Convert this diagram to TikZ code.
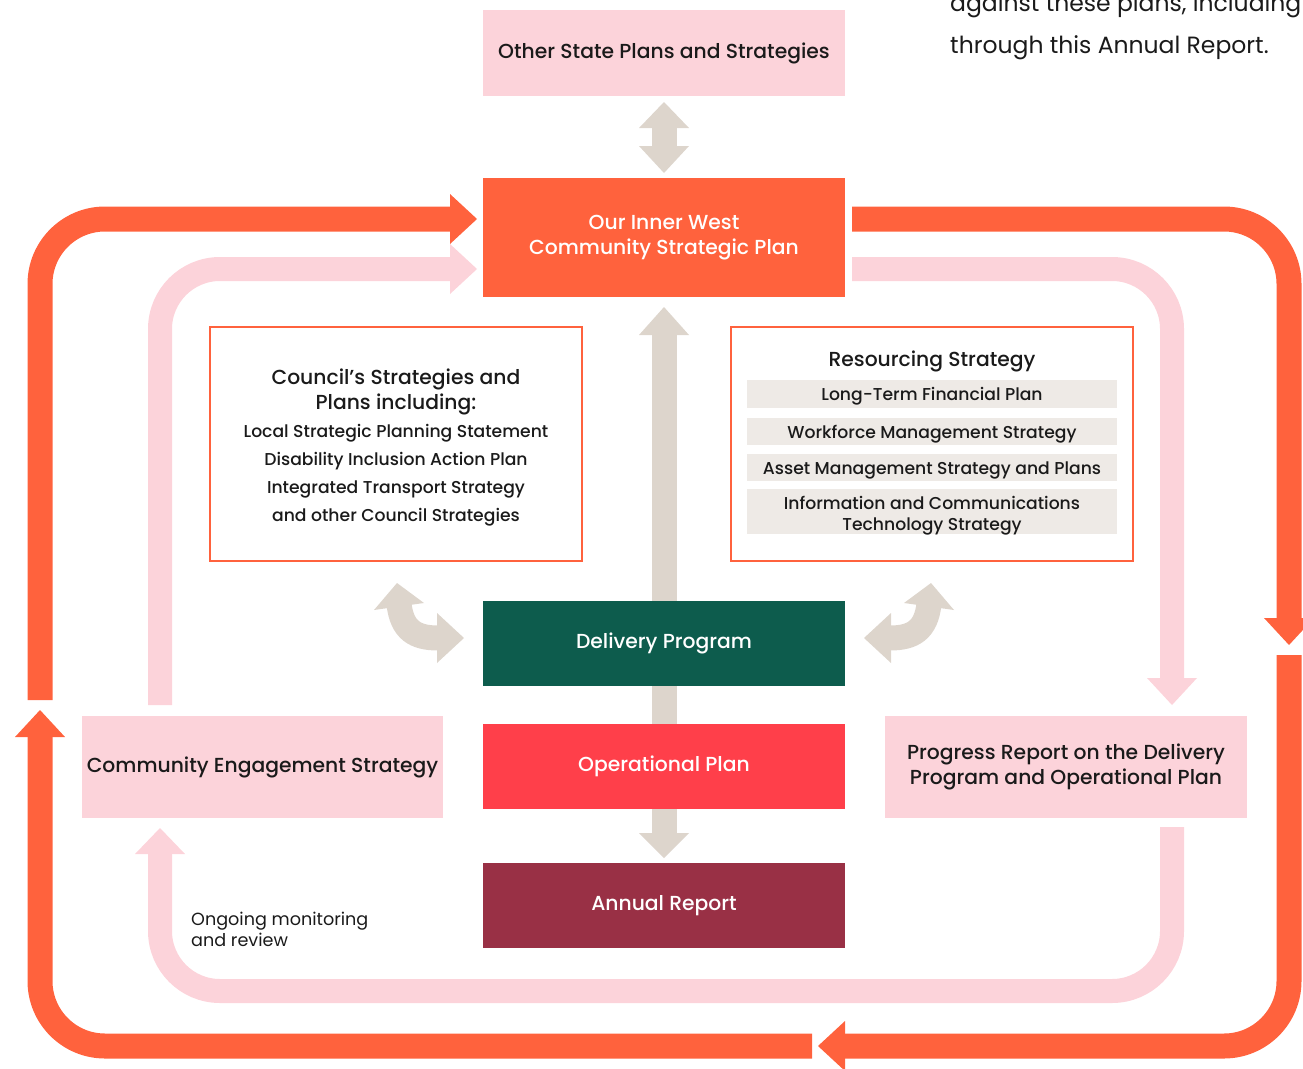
\documentclass[tikz,border=0pt]{standalone}
\usepackage{fontspec}
\setmainfont{Poppins}
\IfFontExistsTF{Poppins Medium}{\newfontfamily\medfont{Poppins Medium}}{\newfontfamily\medfont{Poppins}[FakeBold=0.5]}
\definecolor{orangec}{HTML}{FF623D}
\definecolor{pinkc}{HTML}{FCD3DA}
\definecolor{greyc}{HTML}{DDD5CC}
\definecolor{barc}{HTML}{EEEAE6}
\definecolor{greenc}{HTML}{0D5C4D}
\definecolor{redc}{HTML}{FF3F4A}
\definecolor{maroonc}{HTML}{993045}
\definecolor{txt}{HTML}{1A1A1A}
\begin{document}
\begin{tikzpicture}[x=1pt,y=-1pt,
  boxbase/.style={inner sep=0pt, align=center, font=\medfont\fontsize{20.3}{25}\selectfont},
  pinkbox/.style={boxbase, fill=pinkc, text=txt},
  solidbox/.style={boxbase, text=white, minimum width=362pt, minimum height=85pt},
  frame/.style={draw=orangec, line width=2pt, fill=white, inner sep=0pt},
  bar/.style={fill=barc, inner sep=0pt, minimum width=370pt},
  small/.style={font=\medfont\fontsize{17.2}{21}\selectfont, text=txt, anchor=base, inner sep=0pt},
  plain/.style={font=\fontsize{17.6}{21}\selectfont, text=txt, anchor=base west, inner sep=0pt},
  title/.style={font=\medfont\fontsize{20.3}{25}\selectfont, text=txt, anchor=base, inner sep=0pt},
  oline/.style={draw=orangec, line width=25pt, rounded corners=65pt},
  pline/.style={draw=pinkc, line width=24pt, rounded corners=60pt},
  gline/.style={draw=greyc, line width=25pt},
  ohead/.style={fill=orangec},
  phead/.style={fill=pinkc},
  ghead/.style={fill=greyc}]
\useasboundingbox (0,0) rectangle (1303,1068);

% top right text (cut off at the top edge, as in the reference)
\node[anchor=base west, inner sep=0pt, text=txt, font=\fontsize{23.5}{40}\selectfont] (tr1) at (950,12) {against these plans, including};
\node[anchor=base west, inner sep=0pt, text=txt, font=\fontsize{23.5}{40}\selectfont] (tr2) at (950,53) {through this Annual Report.};

% coordinates for loops
\coordinate (o1s) at (852,219);
\coordinate (o1e) at (1289,618);
\coordinate (o2s) at (1289,655);
\coordinate (o2e) at (845,1046);
\coordinate (o3s) at (812,1046);
\coordinate (o3e) at (40,737);
\coordinate (o4s) at (40,700);
\coordinate (o4e) at (450,219);

% orange loop
\draw[oline] (o1s) -- (1289,219) -- (o1e);
\fill[ohead] (1264,618) -- (1314,618) -- (1289,645) -- cycle;
\draw[oline] (o2s) -- (1289,1046) -- (o2e);
\fill[ohead] (845,1021) -- (845,1071) -- (818,1046) -- cycle;
\draw[oline] (o3s) -- (40,1046) -- (o3e);
\fill[ohead] (15,737) -- (65,737) -- (40,710) -- cycle;
\draw[oline] (o4s) -- (40,219) -- (o4e);
\fill[ohead] (450,194) -- (450,244) -- (477,219) -- cycle;

% pink loop
\draw[pline] (160,705) -- (160,269) -- (450,269);
\fill[phead] (450,244) -- (450,294) -- (477,269) -- cycle;
\draw[pline] (852,269) -- (1172,269) -- (1172,678);
\fill[phead] (1147,678) -- (1197,678) -- (1172,705) -- cycle;
\draw[pline] (1172,827) -- (1172,991) -- (160,991) -- (160,854);
\fill[phead] (135,854) -- (185,854) -- (160,828) -- cycle;

% grey arrows
\draw[gline] (664,128) -- (664,148);
\fill[ghead] (639,128) -- (689,128) -- (664,102) -- cycle;
\fill[ghead] (639,146) -- (689,146) -- (664,173) -- cycle;
\draw[gline] (664,334) -- (664,726);
\fill[ghead] (639,335) -- (689,335) -- (664,307) -- cycle;
\draw[gline] (664,808) -- (664,834);
\fill[ghead] (639,833) -- (689,833) -- (664,858) -- cycle;

% curved arrows
\draw[gline] (399,604) .. controls (402,630) and (415,638) .. (438,638);
\fill[ghead] (437,613) -- (437,663) -- (464,638) -- cycle;
\fill[ghead] (374,610) -- (424,603) -- (397,583) -- cycle;
\draw[gline] (890,638) .. controls (913,638) and (926,630) .. (929,604);
\fill[ghead] (891,613) -- (891,663) -- (864,638) -- cycle;
\fill[ghead] (954,610) -- (904,603) -- (931,583) -- cycle;

% main nodes
\node[pinkbox, minimum width=362pt, minimum height=86pt] (state) at (664,53) {\raisebox{-1pt}{Other State Plans and Strategies}};
\node[boxbase, fill=orangec, text=white, minimum width=362pt, minimum height=119pt] (csp) at (664,237.5) {\raisebox{-1.5pt}{Our Inner West}\\\raisebox{-1.5pt}{Community Strategic Plan}};
\node[solidbox, fill=greenc] (dp) at (664,643.5) {\raisebox{-1.5pt}{Delivery Program}};
\node[solidbox, fill=redc] (op) at (664,766.5) {\raisebox{-1.5pt}{Operational Plan}};
\node[solidbox, fill=maroonc] (ar) at (664,905.5) {\raisebox{-1.5pt}{Annual Report}};
\node[pinkbox, minimum width=361pt, minimum height=102pt] (ces) at (262.5,767) {\raisebox{-1.5pt}{Community Engagement Strategy}};
\node[pinkbox, minimum width=362pt, minimum height=102pt] (prog) at (1066,767) {\raisebox{-1.5pt}{Progress Report on the Delivery}\\\raisebox{-1.5pt}{Program and Operational Plan}};

% council box
\node[frame, minimum width=372pt, minimum height=234pt] (council) at (396,444) {};
\node[title] (ct1) at (396,384) {Council’s Strategies and};
\node[title] (ct2) at (396,409) {Plans including:};
\node[small] (c1) at (396,437) {Local Strategic Planning Statement};
\node[small] (c2) at (396,465) {Disability Inclusion Action Plan};
\node[small] (c3) at (396,493) {Integrated Transport Strategy};
\node[small] (c4) at (396,521) {and other Council Strategies};

% resourcing box
\node[frame, minimum width=402pt, minimum height=234pt] (res) at (932,444) {};
\node[title] (rt) at (932,366) {Resourcing Strategy};
\node[bar, minimum height=28pt] (b1) at (932,394) {};
\node[small] (b1t) at (932,400) {Long-Term Financial Plan};
\node[bar, minimum height=27pt] (b2) at (932,431.5) {};
\node[small] (b2t) at (932,438) {Workforce Management Strategy};
\node[bar, minimum height=27pt] (b3) at (932,467.5) {};
\node[small] (b3t) at (932,474) {Asset Management Strategy and Plans};
\node[bar, minimum height=45pt] (b4) at (932,511.5) {};
\node[small] (b4t) at (932,509) {Information and Communications};
\node[small] (b4u) at (932,530) {Technology Strategy};

% ongoing
\node[plain] (on1) at (191,925) {Ongoing monitoring};
\node[plain] (on2) at (191,946) {and review};
\end{tikzpicture}
\end{document}
